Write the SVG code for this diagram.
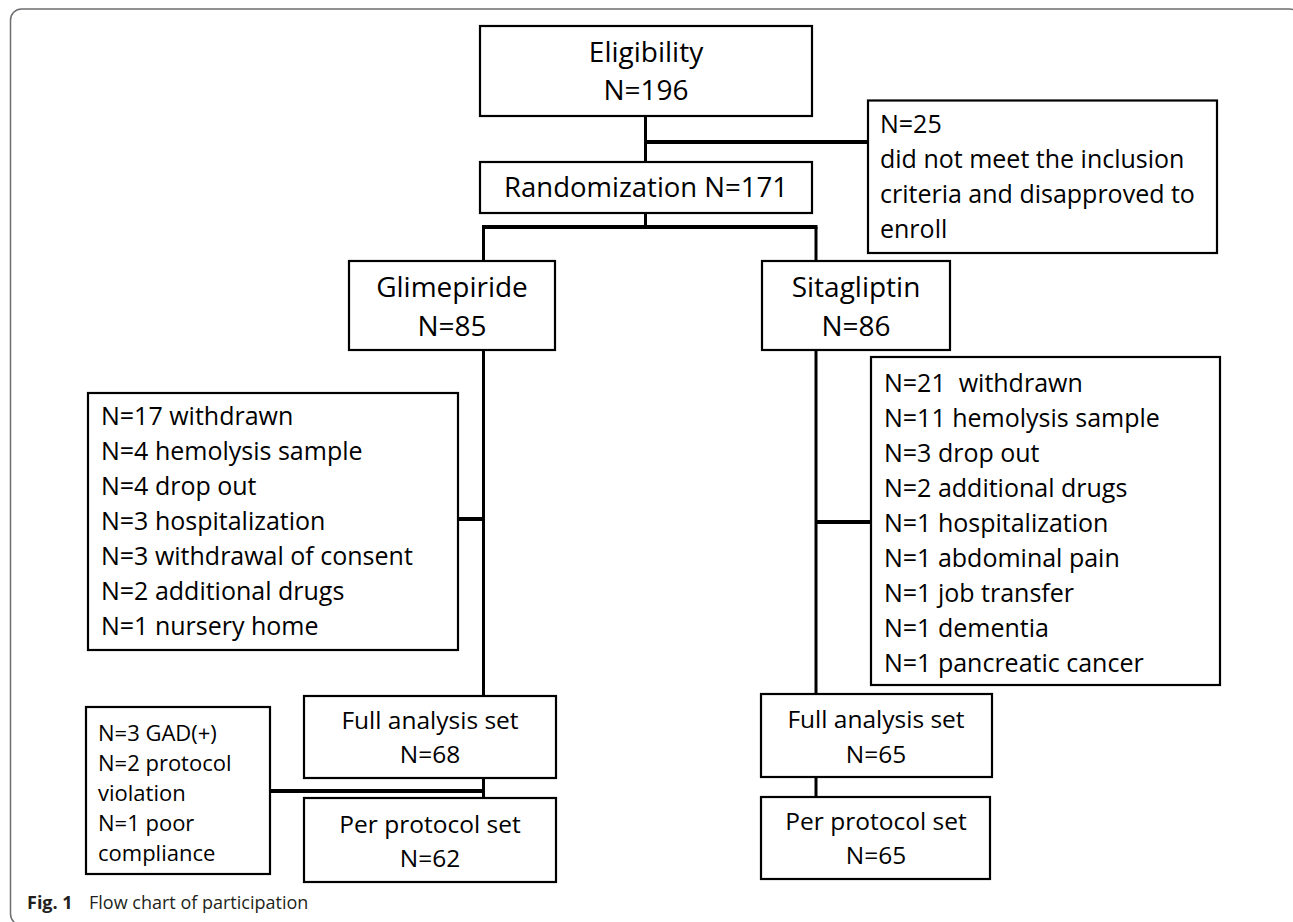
<svg xmlns="http://www.w3.org/2000/svg" width="1293" height="922" viewBox="0 0 1293 922">
<style>
.box{fill:#fff;stroke:#000;stroke-width:2.2}
.t{font-family:"Open Sans","Noto Sans","Liberation Sans",sans-serif;fill:#000}
.c{text-anchor:middle}
.f28{font-size:28px}
.f25{font-size:25px}
.f22{font-size:22px}
.conn line{stroke:#000;stroke-width:3;stroke-linecap:butt}
.conn line.thick{stroke-width:4}
.frame{fill:none;stroke:#6d6e71;stroke-width:1.5}
.cap{font-family:"Open Sans","Noto Sans","Liberation Sans",sans-serif;font-size:18px;fill:#231f20}
</style>
<rect width="1293" height="922" fill="#fff"/>
<rect class="frame" x="10.5" y="9" width="1290" height="916" rx="11"/>

<g id="connectors" class="conn">
<line x1="645.5" y1="116" x2="645.5" y2="162"/>
<line class="thick" x1="645.5" y1="142" x2="868" y2="142"/>
<line x1="645.5" y1="213" x2="645.5" y2="227"/>
<line class="thick" x1="482" y1="227" x2="817.5" y2="227"/>
<line x1="483.5" y1="227" x2="483.5" y2="261"/>
<line x1="816" y1="227" x2="816" y2="261"/>
<line x1="483.5" y1="350" x2="483.5" y2="696"/>
<line class="thick" x1="458" y1="519" x2="483.5" y2="519"/>
<line x1="816" y1="350" x2="816" y2="694"/>
<line class="thick" x1="816" y1="522" x2="871" y2="522"/>
<line x1="483.5" y1="778" x2="483.5" y2="798"/>
<line class="thick" x1="270" y1="791" x2="485" y2="791"/>
<line x1="816" y1="777" x2="816" y2="797"/>
</g>

<g id="eligibility">
<rect class="box" x="480" y="26" width="332" height="90"/>
<text class="t c f28" x="646" y="62">Eligibility</text>
<text class="t c f28" x="646" y="100">N=196</text>
</g>

<g id="excluded">
<rect class="box" x="868" y="100.5" width="349" height="152.5"/>
<text class="t f25" x="880" y="133">N=25</text>
<text class="t f25" x="880" y="168">did not meet the inclusion</text>
<text class="t f25" x="880" y="203">criteria and disapproved to</text>
<text class="t f25" x="880" y="238">enroll</text>
</g>

<g id="randomization">
<rect class="box" x="480" y="162" width="332" height="51"/>
<text class="t c" font-size="27.5" x="646" y="197">Randomization N=171</text>
</g>

<g id="glimepiride">
<rect class="box" x="349" y="261" width="206" height="89"/>
<text class="t c f28" x="452" y="297">Glimepiride</text>
<text class="t c f28" x="452" y="336">N=85</text>
</g>

<g id="sitagliptin">
<rect class="box" x="762" y="261" width="188" height="89"/>
<text class="t c f28" x="856" y="297">Sitagliptin</text>
<text class="t c f28" x="856" y="336">N=86</text>
</g>

<g id="glim-withdrawn">
<rect class="box" x="88" y="393" width="370" height="257"/>
<text class="t f25" x="101" y="425">N=17 withdrawn</text>
<text class="t f25" x="101" y="460">N=4 hemolysis sample</text>
<text class="t f25" x="101" y="495">N=4 drop out</text>
<text class="t f25" x="101" y="530">N=3 hospitalization</text>
<text class="t f25" x="101" y="565">N=3 withdrawal of consent</text>
<text class="t f25" x="101" y="600">N=2 additional drugs</text>
<text class="t f25" x="101" y="635">N=1 nursery home</text>
</g>

<g id="sita-withdrawn">
<rect class="box" x="871" y="357" width="349" height="328"/>
<text class="t f25" x="884" y="392" xml:space="preserve">N=21  withdrawn</text>
<text class="t f25" x="884" y="427">N=11 hemolysis sample</text>
<text class="t f25" x="884" y="462">N=3 drop out</text>
<text class="t f25" x="884" y="497">N=2 additional drugs</text>
<text class="t f25" x="884" y="532">N=1 hospitalization</text>
<text class="t f25" x="884" y="567">N=1 abdominal pain</text>
<text class="t f25" x="884" y="602">N=1 job transfer</text>
<text class="t f25" x="884" y="637">N=1 dementia</text>
<text class="t f25" x="884" y="672">N=1 pancreatic cancer</text>
</g>

<g id="glim-fas">
<rect class="box" x="304" y="696" width="252" height="82"/>
<text class="t c" font-size="24.5" x="430" y="729">Full analysis set</text>
<text class="t c" font-size="24.5" x="430" y="763">N=68</text>
</g>

<g id="glim-excluded">
<rect class="box" x="86" y="707" width="184" height="167"/>
<text class="t f22" x="98" y="741">N=3 GAD(+)</text>
<text class="t f22" x="98" y="771">N=2 protocol</text>
<text class="t f22" x="98" y="801">violation</text>
<text class="t f22" x="98" y="831">N=1 poor</text>
<text class="t f22" x="98" y="861">compliance</text>
</g>

<g id="glim-pps">
<rect class="box" x="304" y="798" width="252" height="84"/>
<text class="t c" font-size="24.5" x="430" y="833">Per protocol set</text>
<text class="t c" font-size="24.5" x="430" y="867">N=62</text>
</g>

<g id="sita-fas">
<rect class="box" x="761" y="694" width="231" height="83"/>
<text class="t c" font-size="24.5" x="876" y="728">Full analysis set</text>
<text class="t c" font-size="24.5" x="876" y="763">N=65</text>
</g>

<g id="sita-pps">
<rect class="box" x="761" y="797" width="229" height="82"/>
<text class="t c" font-size="24.5" x="876" y="830">Per protocol set</text>
<text class="t c" font-size="24.5" x="876" y="864">N=65</text>
</g>

<g id="caption">
<text class="cap" x="27" y="909"><tspan font-weight="bold">Fig. 1</tspan><tspan x="89">Flow chart of participation</tspan></text>
</g>
</svg>
